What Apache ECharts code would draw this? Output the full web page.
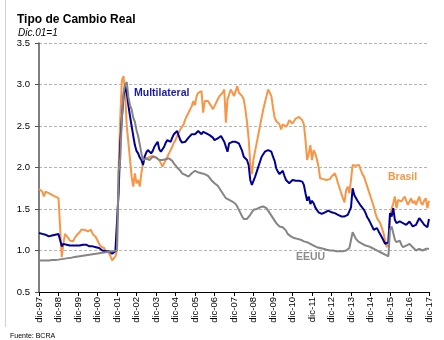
<!DOCTYPE html>
<html>
<head>
<meta charset="utf-8">
<script src="https://cdn.jsdelivr.net/npm/echarts@6/dist/echarts.min.js"></script>
<style>html,body{margin:0;padding:0;background:#fff}#c{width:444px;height:340px}</style>
</head>
<body>
<div id="c"></div>
<script>
// Tick labels (one per December, 1997..2017)
const tickLabels = ["dic-97","dic-98","dic-99","dic-00","dic-01","dic-02","dic-03","dic-04","dic-05","dic-06","dic-07","dic-08","dic-09","dic-10","dic-11","dic-12","dic-13","dic-14","dic-15","dic-16","dic-17"];

// Monthly values, Dec-1997 .. Dec-2017 (241 points), index Dic.01 = 1
const brasil = [
 1.74,
 1.72,1.71,1.65,1.71,1.70,1.69,1.68,1.67,1.66,1.65,1.64,1.63,
 1.62,0.92,1.08,1.20,1.22,1.15,1.12,1.10,1.11,1.15,1.18,1.20,
 1.22,1.25,1.24,1.25,1.27,1.23,1.22,1.25,1.20,1.18,1.16,1.12,
 1.08,1.05,1.05,1.03,1.00,0.98,0.97,0.93,0.88,0.90,0.93,1.00,
 2.00,2.60,3.05,3.10,2.90,2.50,2.30,2.10,1.89,1.77,1.93,1.81,
 1.85,1.77,1.93,2.05,2.13,2.10,2.11,2.13,2.15,2.14,2.15,2.12,
 2.10,2.09,2.05,2.01,2.05,2.09,2.13,2.17,2.21,2.25,2.30,2.33,
 2.38,2.40,2.46,2.46,2.52,2.58,2.62,2.66,2.70,2.74,2.80,2.75,
 2.86,2.90,2.88,2.92,2.66,2.80,2.82,2.80,2.78,2.74,2.70,2.74,
 2.78,2.82,2.86,2.88,2.90,2.94,2.54,2.82,2.88,2.94,2.90,2.86,
 2.92,2.98,2.90,2.88,2.86,2.82,2.70,2.55,2.35,2.05,1.92,2.10,
 2.20,2.30,2.40,2.50,2.60,2.70,2.78,2.86,2.94,2.90,2.86,2.72,
 2.60,2.56,2.56,2.52,2.46,2.52,2.53,2.49,2.52,2.57,2.55,2.53,
 2.55,2.59,2.60,2.61,2.59,2.57,2.52,2.33,2.09,2.17,2.27,2.09,
 2.21,2.17,2.10,2.01,1.87,1.85,1.86,1.87,1.85,1.83,1.86,1.89,
 1.89,1.93,1.88,1.81,1.75,1.69,1.63,1.58,1.73,1.77,1.69,1.85,
 2.03,2.05,2.02,2.01,2.03,1.97,1.92,1.89,1.83,1.77,1.71,1.65,
 1.59,1.53,1.45,1.39,1.36,1.33,1.27,1.21,1.12,1.04,1.12,1.41,
 1.50,1.57,1.65,1.51,1.61,1.60,1.59,1.62,1.65,1.60,1.55,1.59,
 1.63,1.57,1.60,1.55,1.60,1.65,1.58,1.55,1.60,1.63,1.51,1.60
];
const multilateral = [
 1.21,
 1.19,1.20,1.18,1.19,1.18,1.17,1.19,1.18,1.20,1.19,1.19,1.20,
 1.20,1.05,1.08,1.06,1.07,1.05,1.06,1.05,1.06,1.05,1.06,1.07,
 1.06,1.05,1.07,1.06,1.07,1.06,1.05,1.06,1.05,1.06,1.04,1.05,
 1.03,1.02,1.00,1.01,0.99,1.00,0.99,0.98,0.96,0.98,0.99,1.00,
 1.70,2.30,2.60,2.85,2.98,2.90,2.75,2.62,2.50,2.38,2.27,2.20,
 2.17,2.12,2.09,2.03,2.13,2.18,2.21,2.19,2.17,2.20,2.25,2.28,
 2.31,2.22,2.19,2.22,2.25,2.30,2.33,2.32,2.31,2.36,2.40,2.42,
 2.44,2.38,2.33,2.30,2.29,2.31,2.33,2.36,2.38,2.40,2.42,2.40,
 2.42,2.44,2.42,2.40,2.43,2.44,2.41,2.40,2.39,2.38,2.36,2.33,
 2.34,2.35,2.36,2.38,2.36,2.31,2.25,2.19,2.29,2.30,2.31,2.31,
 2.31,2.30,2.29,2.27,2.20,2.13,2.11,2.09,2.03,1.85,1.79,1.84,
 1.89,1.95,2.01,2.07,2.13,2.16,2.19,2.20,2.21,2.20,2.19,2.13,
 2.08,1.99,1.95,1.92,1.90,1.96,1.90,1.85,1.83,1.81,1.83,1.85,
 1.85,1.84,1.83,1.84,1.85,1.83,1.79,1.69,1.60,1.65,1.56,1.60,
 1.57,1.52,1.49,1.46,1.45,1.44,1.44,1.46,1.46,1.48,1.47,1.46,
 1.46,1.45,1.44,1.43,1.42,1.41,1.40,1.41,1.42,1.43,1.44,1.52,
 1.75,1.67,1.66,1.60,1.61,1.54,1.53,1.49,1.45,1.40,1.37,1.33,
 1.31,1.25,1.26,1.27,1.23,1.21,1.16,1.12,1.08,1.06,1.10,1.45,
 1.41,1.51,1.37,1.33,1.34,1.35,1.34,1.33,1.32,1.31,1.33,1.35,
 1.32,1.29,1.30,1.31,1.35,1.39,1.37,1.34,1.31,1.29,1.28,1.38
];
const eeuu = [
 0.88,
 0.880,0.880,0.880,0.880,0.880,0.880,0.880,0.885,0.885,0.885,0.890,0.890,
 0.893,0.896,0.899,0.902,0.905,0.908,0.911,0.914,0.918,0.921,0.924,0.927,
 0.930,0.933,0.936,0.939,0.942,0.945,0.948,0.951,0.954,0.957,0.960,0.963,
 0.966,0.969,0.972,0.975,0.978,0.981,0.984,0.988,0.991,0.994,0.997,1.000,
 1.95,2.10,2.60,2.90,3.00,3.03,2.85,2.75,2.70,2.60,2.55,2.45,
 2.38,2.28,2.17,2.09,2.10,2.11,2.12,2.09,2.10,2.13,2.13,2.12,
 2.10,2.09,2.10,2.09,2.09,2.10,2.11,2.11,2.10,2.08,2.05,2.03,
 2.00,1.99,1.96,1.93,1.93,1.91,1.89,1.89,1.91,1.93,1.95,1.96,
 1.95,1.94,1.94,1.93,1.93,1.92,1.91,1.90,1.88,1.85,1.83,1.81,
 1.80,1.78,1.75,1.72,1.69,1.66,1.63,1.62,1.61,1.60,1.59,1.58,
 1.56,1.53,1.49,1.45,1.41,1.38,1.37,1.38,1.40,1.43,1.46,1.49,
 1.49,1.50,1.51,1.52,1.53,1.53,1.53,1.51,1.48,1.45,1.42,1.39,
 1.36,1.33,1.31,1.29,1.29,1.28,1.27,1.24,1.20,1.18,1.17,1.16,
 1.15,1.15,1.14,1.13,1.13,1.12,1.11,1.11,1.10,1.09,1.08,1.07,
 1.06,1.05,1.04,1.04,1.03,1.02,1.02,1.01,1.01,1.01,1.00,1.00,
 1.00,0.99,0.99,0.99,0.99,0.99,0.99,0.99,1.00,1.01,1.03,1.05,
 1.22,1.18,1.14,1.12,1.10,1.09,1.08,1.07,1.06,1.06,1.05,1.04,
 1.03,1.02,1.01,1.00,0.99,0.98,0.97,0.96,0.95,0.94,0.93,1.25,
 1.29,1.21,1.13,1.10,1.11,1.12,1.07,1.04,1.05,1.06,1.07,1.08,
 1.06,1.04,1.02,1.00,1.01,1.02,1.01,1.00,1.01,1.02,1.01,1.02
];

const toPairs = arr => arr.map((v, i) => [i, v]);
const FONT = '"Liberation Sans", Arial, sans-serif';

const chart = echarts.init(document.getElementById('c'), null, {renderer: 'canvas'});
chart.setOption({
  animation: false,
  backgroundColor: '#ffffff',
  title: [
    {text: 'Tipo de Cambio Real', left: 12, top: 9,
     textStyle: {fontFamily: FONT, fontSize: 12, fontWeight: 'bold', color: '#000'}},
    {text: 'Dic.01=1', left: 13, top: 23,
     textStyle: {fontFamily: FONT, fontSize: 10, fontStyle: 'italic', fontWeight: 'normal', color: '#000'}},
    {text: 'Fuente: BCRA', left: 5, top: 328,
     textStyle: {fontFamily: FONT, fontSize: 7, fontWeight: 'normal', color: '#000'}}
  ],
  graphic: [
    {type: 'line', shape: {x1: 5.5, y1: 0, x2: 5.5, y2: 327}, style: {stroke: '#d0d0d0', lineWidth: 1}, silent: true},
    {type: 'text', left: 134, top: 88, style: {text: 'Multilateral', fill: '#1a1aa8', font: 'bold 10.5px ' + FONT}},
    {type: 'text', left: 388, top: 172, style: {text: 'Brasil', fill: '#f79646', font: 'bold 10.5px ' + FONT}},
    {type: 'text', left: 296, top: 252, style: {text: 'EEUU', fill: '#8c8c8c', font: 'bold 10.5px ' + FONT}}
  ],
  grid: {left: 39, right: 15, top: 43, bottom: 48, containLabel: false},
  xAxis: {
    type: 'value', min: 0, max: 240, interval: 12,
    axisLine: {show: true, lineStyle: {color: '#000', width: 1}},
    axisTick: {show: true, length: 4, inside: false, lineStyle: {color: '#000'}},
    splitLine: {show: false},
    axisLabel: {
      rotate: 90, margin: 5, fontFamily: FONT, fontSize: 9.5, color: '#000',
      formatter: v => tickLabels[Math.round(v / 12)] || ''
    }
  },
  yAxis: {
    type: 'value', min: 0.5, max: 3.5, interval: 0.5,
    axisLine: {show: true, lineStyle: {color: '#555', width: 1.5}},
    axisTick: {show: true, length: 4, lineStyle: {color: '#555'}},
    splitLine: {show: true, lineStyle: {color: '#b4b4b4', type: [3, 2], width: 1}},
    axisLabel: {margin: 9, fontFamily: FONT, fontSize: 9.5, color: '#000', formatter: v => v.toFixed(1)}
  },
  series: [
    {name: 'Brasil', type: 'line', data: toPairs(brasil), showSymbol: false, symbol: 'none',
     lineStyle: {color: '#f79646', width: 2}, z: 2},
    {name: 'Multilateral', type: 'line', data: toPairs(multilateral), showSymbol: false, symbol: 'none',
     lineStyle: {color: '#000096', width: 2}, z: 3},
    {name: 'EEUU', type: 'line', data: toPairs(eeuu), showSymbol: false, symbol: 'none',
     lineStyle: {color: '#858585', width: 2}, z: 4}
  ]
});
</script>
</body>
</html>
